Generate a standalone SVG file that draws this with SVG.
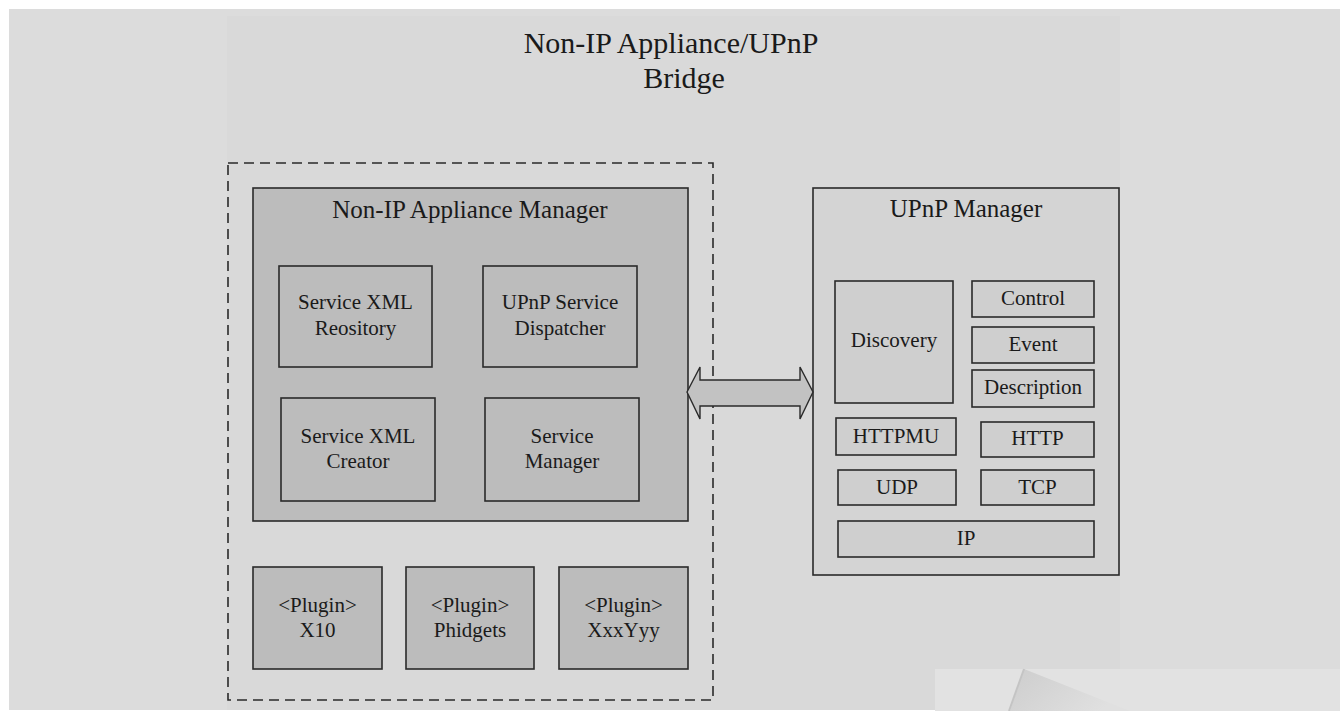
<svg xmlns="http://www.w3.org/2000/svg" width="1340" height="711" viewBox="0 0 1340 711">
  <style>
    .lbl { font-family: "Liberation Serif", "Times New Roman", serif; fill: #1a1a1a; text-anchor: middle; }
    .t21 { font-size: 21px; }
    .t25 { font-size: 25px; }
    .title { font-size: 30px; }
    .box { stroke: #2a2a2a; stroke-width: 1.6; }
    .dark { fill: #bcbcbc; }
    .light { fill: #d4d4d4; }
    .inner { fill: #cfcfcf; }
  </style>
  <defs>
    <linearGradient id="curl" x1="0" y1="0" x2="1" y2="0.4">
      <stop offset="0" stop-color="#cdcdcd"/>
      <stop offset="1" stop-color="#e0e0e0"/>
    </linearGradient>
  </defs>

  <!-- page background -->
  <rect x="0" y="0" width="1340" height="711" fill="#ffffff"/>
  <rect x="9" y="9" width="1331" height="701" fill="#dcdcdc"/>
  <rect x="227" y="16" width="893" height="694" fill="#d9d9d9"/>
  <rect x="935" y="669" width="405" height="42" fill="#e2e2e2"/>
  <polygon points="1024,669 1130,711 1010,711" fill="url(#curl)"/>
  <line x1="1024" y1="669" x2="1009" y2="711" stroke="#c4c4c4" stroke-width="2"/>

  <!-- title -->
  <g id="title">
    <text class="lbl title" x="671" y="53">Non-IP Appliance/UPnP</text>
    <text class="lbl title" x="684" y="88">Bridge</text>
  </g>

  <!-- bridge boundary -->
  <g id="bridge-boundary">
    <rect x="228" y="163" width="485" height="537" fill="none" stroke="#2a2a2a" stroke-width="1.6" stroke-dasharray="10 6"/>
  </g>

  <!-- Non-IP Appliance Manager -->
  <g id="nonip-manager">
    <rect class="box dark" x="253" y="188" width="435" height="333"/>
    <text class="lbl t25" x="470" y="218">Non-IP Appliance Manager</text>
  </g>
  <g id="xml-repository">
    <rect class="box dark" x="279" y="266" width="153" height="101"/>
    <text class="lbl t21" x="355.5" y="309">Service XML</text>
    <text class="lbl t21" x="355.5" y="335">Reository</text>
  </g>
  <g id="service-dispatcher">
    <rect class="box dark" x="483" y="266" width="154" height="101"/>
    <text class="lbl t21" x="560" y="309">UPnP Service</text>
    <text class="lbl t21" x="560" y="335">Dispatcher</text>
  </g>
  <g id="xml-creator">
    <rect class="box dark" x="281" y="398" width="154" height="103"/>
    <text class="lbl t21" x="358" y="443">Service XML</text>
    <text class="lbl t21" x="358" y="468">Creator</text>
  </g>
  <g id="service-manager">
    <rect class="box dark" x="485" y="398" width="154" height="103"/>
    <text class="lbl t21" x="562" y="443">Service</text>
    <text class="lbl t21" x="562" y="468">Manager</text>
  </g>

  <!-- plugins -->
  <g id="plugin-x10">
    <rect class="box dark" x="253" y="567" width="129" height="102"/>
    <text class="lbl t21" x="317.5" y="612">&lt;Plugin&gt;</text>
    <text class="lbl t21" x="317.5" y="637">X10</text>
  </g>
  <g id="plugin-phidgets">
    <rect class="box dark" x="406" y="567" width="128" height="102"/>
    <text class="lbl t21" x="470" y="612">&lt;Plugin&gt;</text>
    <text class="lbl t21" x="470" y="637">Phidgets</text>
  </g>
  <g id="plugin-xxxyyy">
    <rect class="box dark" x="559" y="567" width="129" height="102"/>
    <text class="lbl t21" x="623.5" y="612">&lt;Plugin&gt;</text>
    <text class="lbl t21" x="623.5" y="637">XxxYyy</text>
  </g>

  <!-- UPnP Manager -->
  <g id="upnp-manager">
    <rect class="box light" x="813" y="188" width="306" height="387"/>
    <text class="lbl t25" x="966" y="217">UPnP Manager</text>
  </g>
  <g id="discovery">
    <rect class="box inner" x="835" y="281" width="118" height="122"/>
    <text class="lbl t21" x="894" y="347">Discovery</text>
  </g>
  <g id="control">
    <rect class="box inner" x="972" y="281" width="122" height="36"/>
    <text class="lbl t21" x="1033" y="305">Control</text>
  </g>
  <g id="event">
    <rect class="box inner" x="972" y="327" width="122" height="36"/>
    <text class="lbl t21" x="1033" y="351">Event</text>
  </g>
  <g id="description">
    <rect class="box inner" x="972" y="370" width="122" height="37"/>
    <text class="lbl t21" x="1033" y="394">Description</text>
  </g>
  <g id="httpmu">
    <rect class="box inner" x="836" y="418" width="120" height="37"/>
    <text class="lbl t21" x="896" y="443">HTTPMU</text>
  </g>
  <g id="http">
    <rect class="box inner" x="981" y="422" width="113" height="35"/>
    <text class="lbl t21" x="1037.5" y="445">HTTP</text>
  </g>
  <g id="udp">
    <rect class="box inner" x="838" y="470" width="118" height="35"/>
    <text class="lbl t21" x="897" y="494">UDP</text>
  </g>
  <g id="tcp">
    <rect class="box inner" x="981" y="470" width="113" height="35"/>
    <text class="lbl t21" x="1037.5" y="494">TCP</text>
  </g>
  <g id="ip">
    <rect class="box inner" x="838" y="521" width="256" height="36"/>
    <text class="lbl t21" x="966" y="545">IP</text>
  </g>

  <!-- connectors -->
  <g id="connectors">
    <polygon points="687,392 700,367 700,380 800,380 800,367 813,392 800,419 800,406 700,406 700,419" fill="#c2c2c2" stroke="#2a2a2a" stroke-width="1.4" stroke-linejoin="miter"/>
  </g>
</svg>
